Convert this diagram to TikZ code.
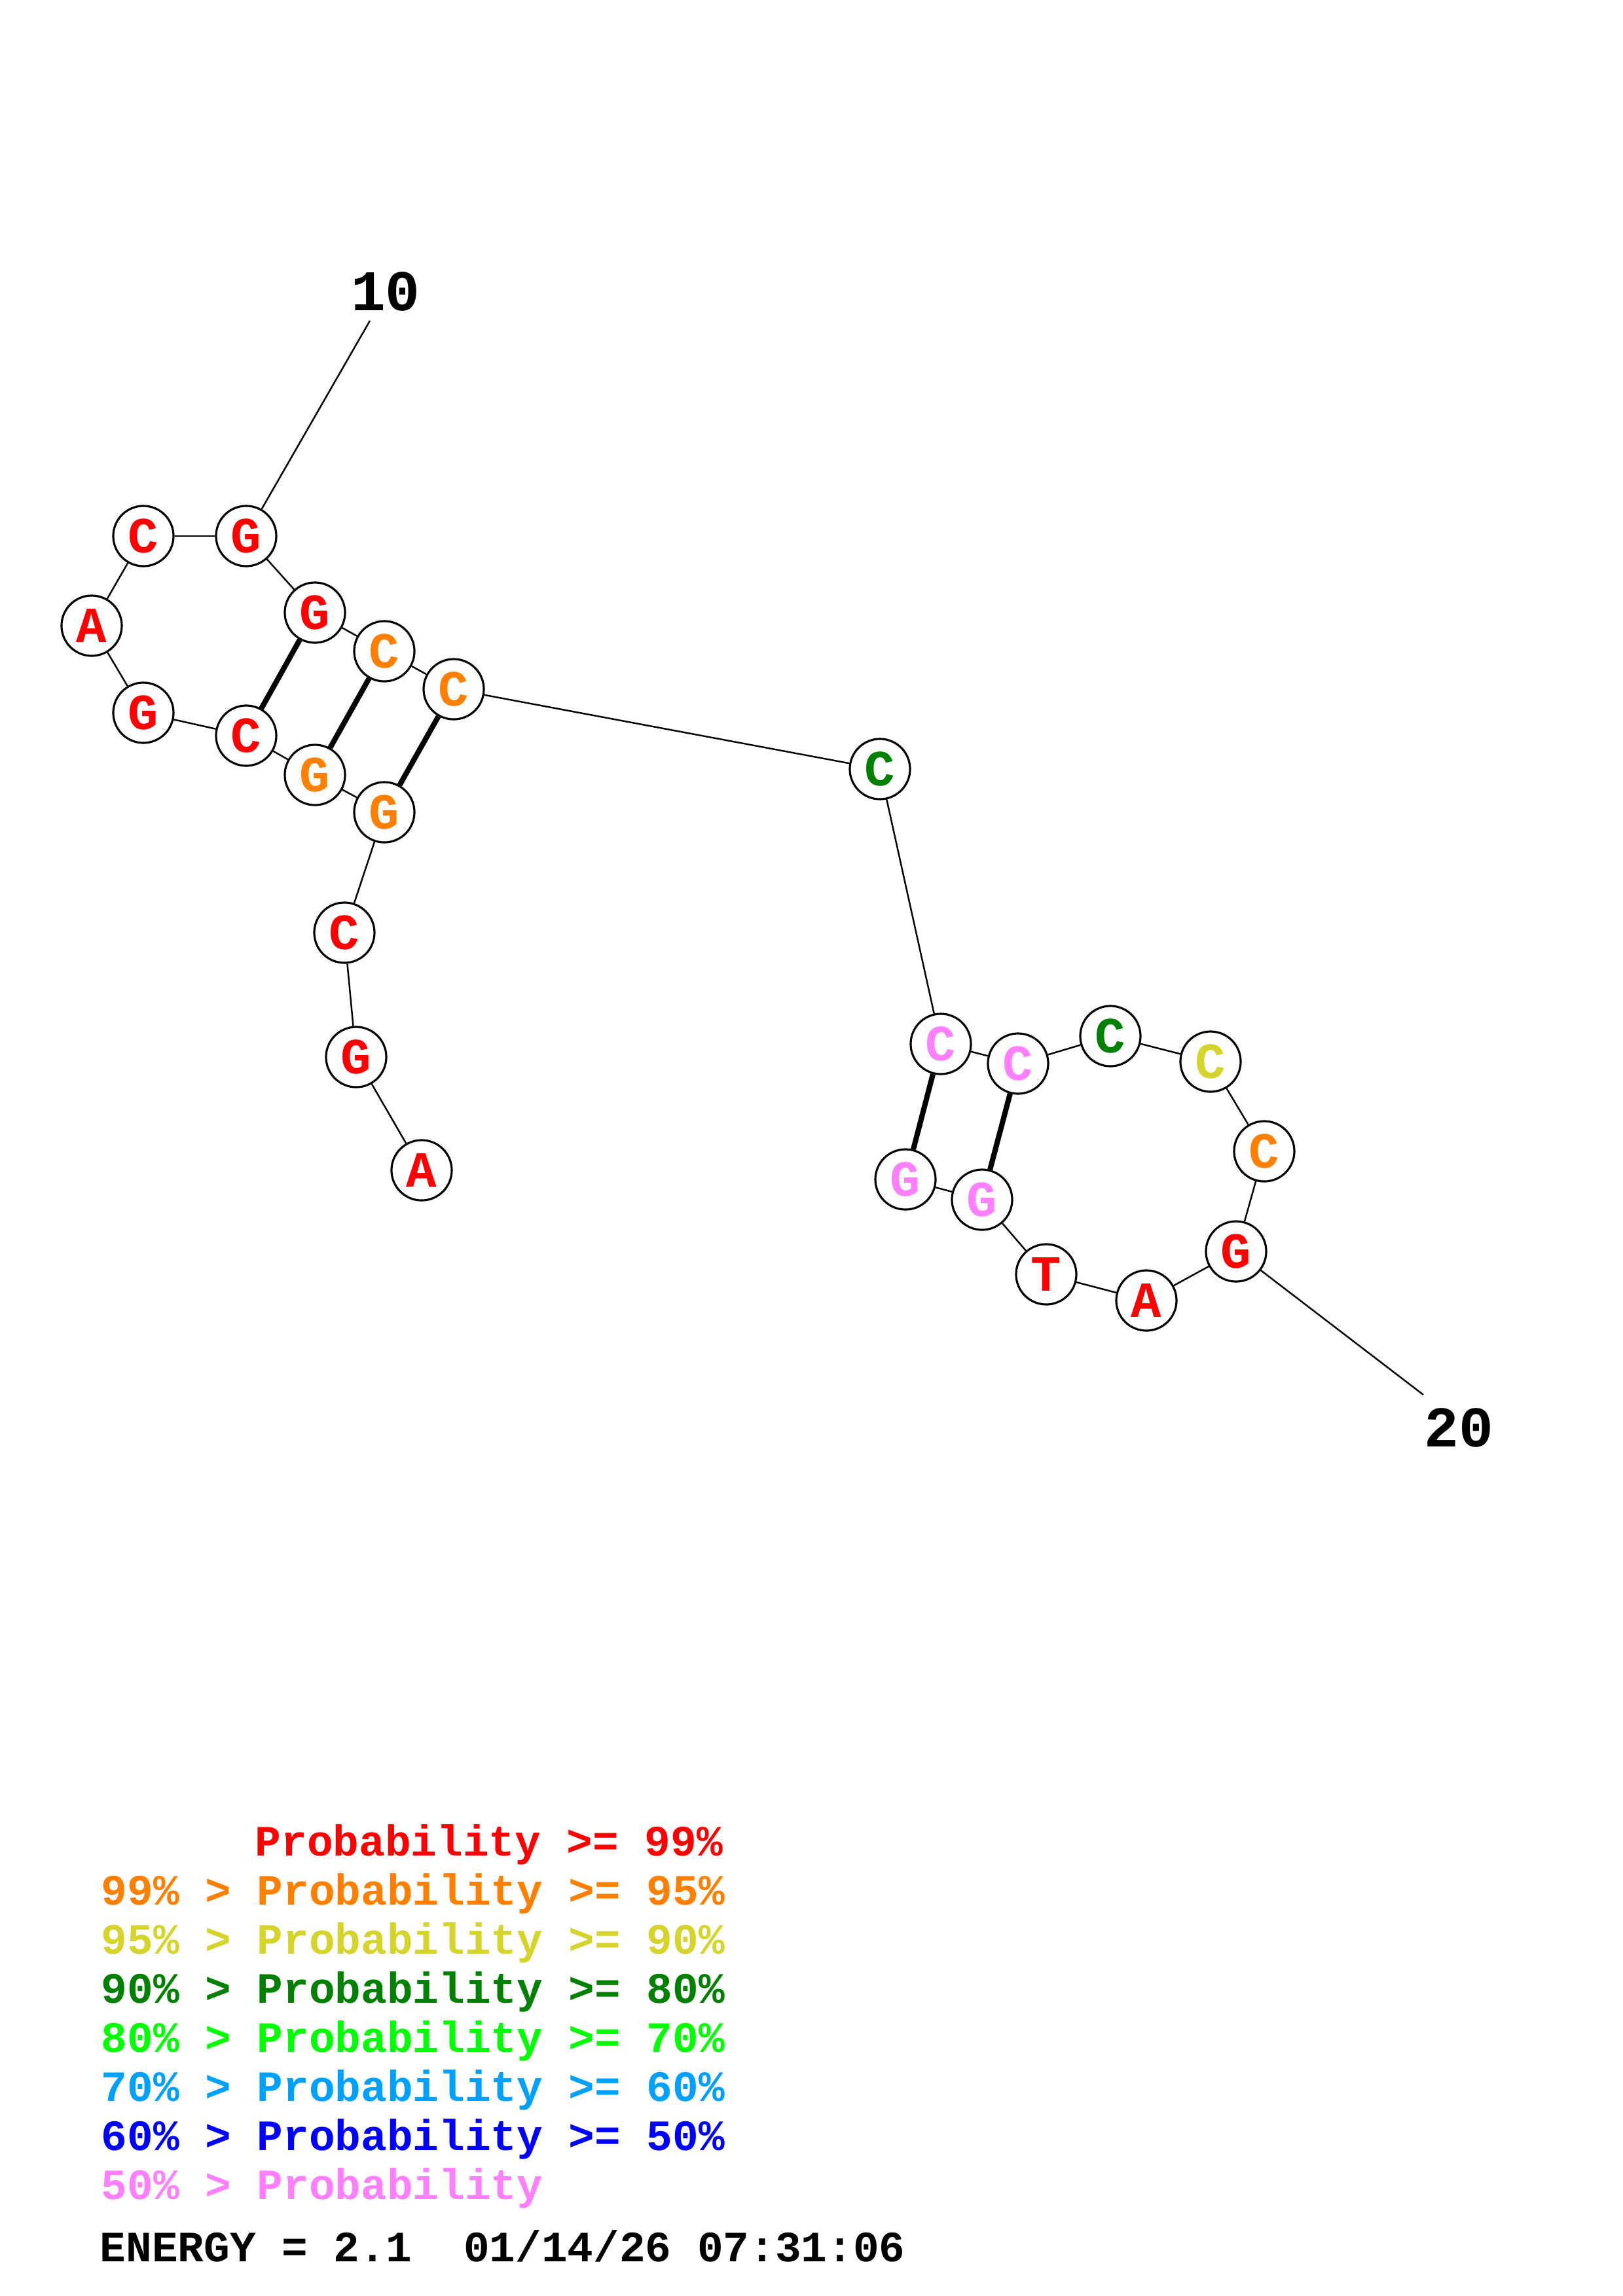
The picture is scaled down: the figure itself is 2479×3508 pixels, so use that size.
\documentclass[tikz,border=0pt]{standalone}
\usepackage{fontspec}
\setmainfont{Liberation Mono}

\definecolor{pr99}{RGB}{255,0,0}
\definecolor{pr95}{RGB}{255,128,0}
\definecolor{pr90}{RGB}{212,212,42}
\definecolor{pr80}{RGB}{0,128,0}
\definecolor{pr70}{RGB}{0,255,0}
\definecolor{pr60}{RGB}{0,160,255}
\definecolor{pr50}{RGB}{0,0,255}
\definecolor{pr00}{RGB}{255,128,255}

\tikzset{
  base/.style={circle, draw, fill=white, line width=0.9pt, minimum size=0.92cm,
    inner sep=0pt, font=\fontsize{22}{22}\selectfont\bfseries},
  bond/.style={line width=0.7pt},
  pair/.style={line width=2.3pt},
  numlabel/.style={font=\fontsize{25}{25}\selectfont\bfseries},
  legend/.style={anchor=base west, inner sep=0pt, font=\fontsize{18.8}{18.8}\selectfont\bfseries}
}

\begin{document}
\begin{tikzpicture}[x=0.01cm, y=-0.01cm]
    \useasboundingbox (0,0) rectangle (2479,3508);

        % Bases, 5' end at the bottom left
        \node[base, text=pr99] (n1) at (644,1788) {A};
        \node[base, text=pr99] (n2) at (544,1615) {G};
        \node[base, text=pr99] (n3) at (526,1425) {C};
        \node[base, text=pr95] (n4) at (587,1241) {G};
        \node[base, text=pr95] (n5) at (481,1184) {G};
        \node[base, text=pr99] (n6) at (376,1124) {C};
        \node[base, text=pr99] (n7) at (219,1089) {G};
        \node[base, text=pr99] (n8) at (140,956) {A};
        \node[base, text=pr99] (n9) at (219,819) {C};
        \node[base, text=pr99] (n10) at (376,819) {G};
        \node[base, text=pr99] (n11) at (481,936) {G};
        \node[base, text=pr95] (n12) at (587,995) {C};
        \node[base, text=pr95] (n13) at (693,1053) {C};
        \node[base, text=pr80] (n14) at (1344,1175) {C};
        \node[base, text=pr00] (n15) at (1437,1595) {C};
        \node[base, text=pr00] (n16) at (1555,1625) {C};
        \node[base, text=pr80] (n17) at (1696,1583) {C};
        \node[base, text=pr90] (n18) at (1849,1622) {C};
        \node[base, text=pr95] (n19) at (1931,1759) {C};
        \node[base, text=pr99] (n20) at (1888,1912) {G};
        \node[base, text=pr99] (n21) at (1751,1987) {A};
        \node[base, text=pr99] (n22) at (1598,1947) {T};
        \node[base, text=pr00] (n23) at (1500,1833) {G};
        \node[base, text=pr00] (n24) at (1383,1802) {G};

        % Backbone
        \foreach \i [count=\j from 2] in {1,...,23}
          \draw[bond] (n\i) -- (n\j);

        % Base pairs
        \foreach \a/\b in {4/13, 5/12, 6/11, 15/24, 16/23}
          \draw[pair] (n\a) -- (n\b);

        % Numbering
        \coordinate (t10) at (565,490);
        \node[numlabel] (l10) at (589,446) {10};
        \draw[bond] (n10) -- (t10);

        \coordinate (t20) at (2174,2131);
        \node[numlabel] (l20) at (2228,2181) {20};
        \draw[bond] (n20) -- (t20);

        % Legend
        \node[legend, text=pr99] (leg1) at (389,2835) {Probability >= 99\%};
        \foreach \col/\lo/\hi [count=\k from 2] in {pr95/99/95, pr90/95/90, pr80/90/80,
                                                   pr70/80/70, pr60/70/60, pr50/60/50}
          \node[legend, text=\col] (leg\k) at (154,{2835+75*(\k-1)}) {\lo\% > Probability >= \hi\%};
        \node[legend, text=pr00] (leg8) at (154,3360) {50\% > Probability};

        \node[legend] (energy) at (152,3455) {ENERGY = 2.1\ \ 01/14/26 07:31:06};

\end{tikzpicture}
\end{document}
